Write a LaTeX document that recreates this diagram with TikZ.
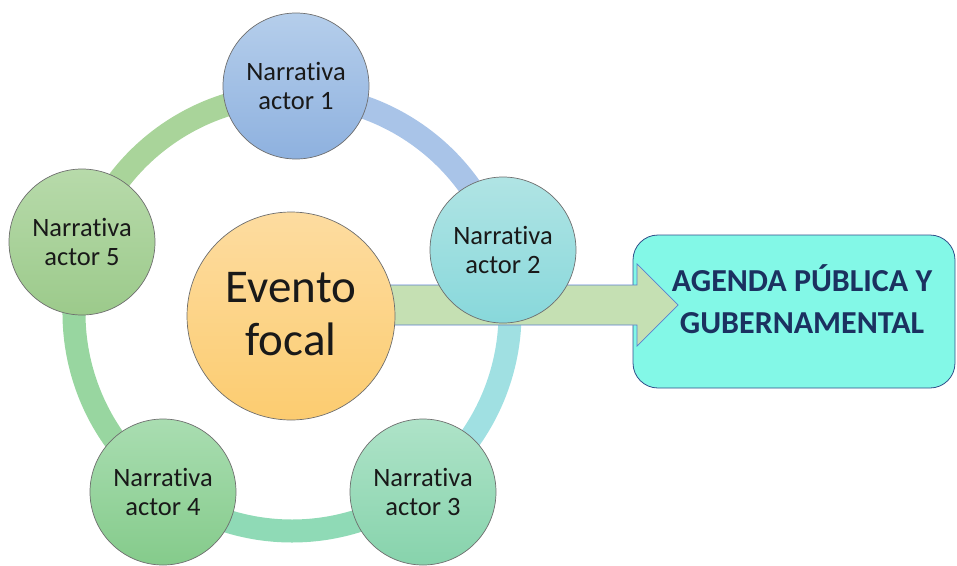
\documentclass[tikz,border=0pt]{standalone}
\usepackage{fontspec}
\setmainfont{Carlito}[Ligatures=NoCommon]
% palette
\definecolor{edgegray}{HTML}{6E6E6E}
\definecolor{segA}{HTML}{A9C4E8}
\definecolor{segB}{HTML}{A0E0E2}
\definecolor{segC}{HTML}{8FDAB6}
\definecolor{segD}{HTML}{98D6A0}
\definecolor{segE}{HTML}{A9D49A}
\definecolor{arrowfill}{HTML}{C5E0B3}
\definecolor{arrowline}{HTML}{5B7FCF}
\definecolor{boxfill}{HTML}{83F8E7}
\definecolor{boxline}{HTML}{2F4F8A}
\definecolor{navy}{HTML}{1B3160}
\definecolor{focalT}{HTML}{FDDCA0}
\definecolor{focalB}{HTML}{FCCC70}
\definecolor{aT1}{HTML}{B5CEEB}\definecolor{aB1}{HTML}{8EB1DF}
\definecolor{aT2}{HTML}{B0E4E4}\definecolor{aB2}{HTML}{88D8DB}
\definecolor{aT3}{HTML}{AEE3C8}\definecolor{aB3}{HTML}{87D3AC}
\definecolor{aT4}{HTML}{A9DDB1}\definecolor{aB4}{HTML}{85CB8B}
\definecolor{aT5}{HTML}{B7DAAA}\definecolor{aB5}{HTML}{9CCA8B}
\begin{document}
\begin{tikzpicture}[x=1pt,y=1pt,
  actor/.style={circle, minimum size=146pt, inner sep=0pt, draw=edgegray,
    line width=0.7pt, align=center, text=black!90,
    font=\fontsize{26.5}{29}\selectfont},
  ringseg/.style={line width=23pt},
  agendabox/.style={rectangle, rounded corners=25pt, minimum width=322pt,
    minimum height=153pt, fill=boxfill, draw=boxline, line width=0.8pt},
  agendatext/.style={align=center, text=navy,
    font=\fontsize{32}{42}\selectfont\bfseries},
  flowarrow/.style={fill=arrowfill, draw=arrowline, line width=0.7pt, line join=miter},
]
\useasboundingbox (0,0) rectangle (957,-565);

% cycle ring behind the actor circles
\coordinate (ring) at (292,-313);
\draw[ringseg, segA] ([shift={(ring)}]90:218) arc[start angle=90, end angle=18, radius=218];
\draw[ringseg, segB] ([shift={(ring)}]18:218) arc[start angle=18, end angle=-54, radius=218];
\draw[ringseg, segC] ([shift={(ring)}]-54:218) arc[start angle=-54, end angle=-126, radius=218];
\draw[ringseg, segD] ([shift={(ring)}]234:218) arc[start angle=234, end angle=162, radius=218];
\draw[ringseg, segE] ([shift={(ring)}]162:218) arc[start angle=162, end angle=90, radius=218];

% target box
\node[agendabox] (agenda) at (794,-311.5) {};
\node[agendatext] (agendalabel) at ([xshift=8pt,yshift=12pt]agenda.center)
  {AGENDA PÚBLICA Y\\GUBERNAMENTAL};

% block arrow from the focal event into the box
\coordinate (tail) at (291,-305);
\coordinate (tip) at (678,-305);
\draw[flowarrow] ([yshift=20pt]tail) -- ([xshift=-41pt,yshift=20pt]tip)
  -- ([xshift=-41pt,yshift=41pt]tip) -- (tip)
  -- ([xshift=-41pt,yshift=-41pt]tip) -- ([xshift=-41pt,yshift=-20pt]tip)
  -- ([yshift=-20pt]tail) -- cycle;

% focal event
\node[circle, minimum size=208pt, inner sep=0pt, draw=edgegray, line width=0.7pt,
  top color=focalT, bottom color=focalB, align=center, text=black!90,
  font=\fontsize{47}{53}\selectfont] (focal) at (291,-316) {\raisebox{4pt}{Evento}\\\raisebox{4pt}{focal}};

% actor narratives
\node[actor, top color=aT1, bottom color=aB1] (a1) at (296,-86) {Narrativa\\actor 1};
\node[actor, top color=aT2, bottom color=aB2] (a2) at (503,-250) {Narrativa\\actor 2};
\node[actor, top color=aT3, bottom color=aB3] (a3) at (423,-492) {Narrativa\\actor 3};
\node[actor, top color=aT4, bottom color=aB4] (a4) at (163,-492) {Narrativa\\actor 4};
\node[actor, top color=aT5, bottom color=aB5] (a5) at (82,-242) {Narrativa\\actor 5};
\end{tikzpicture}
\end{document}
